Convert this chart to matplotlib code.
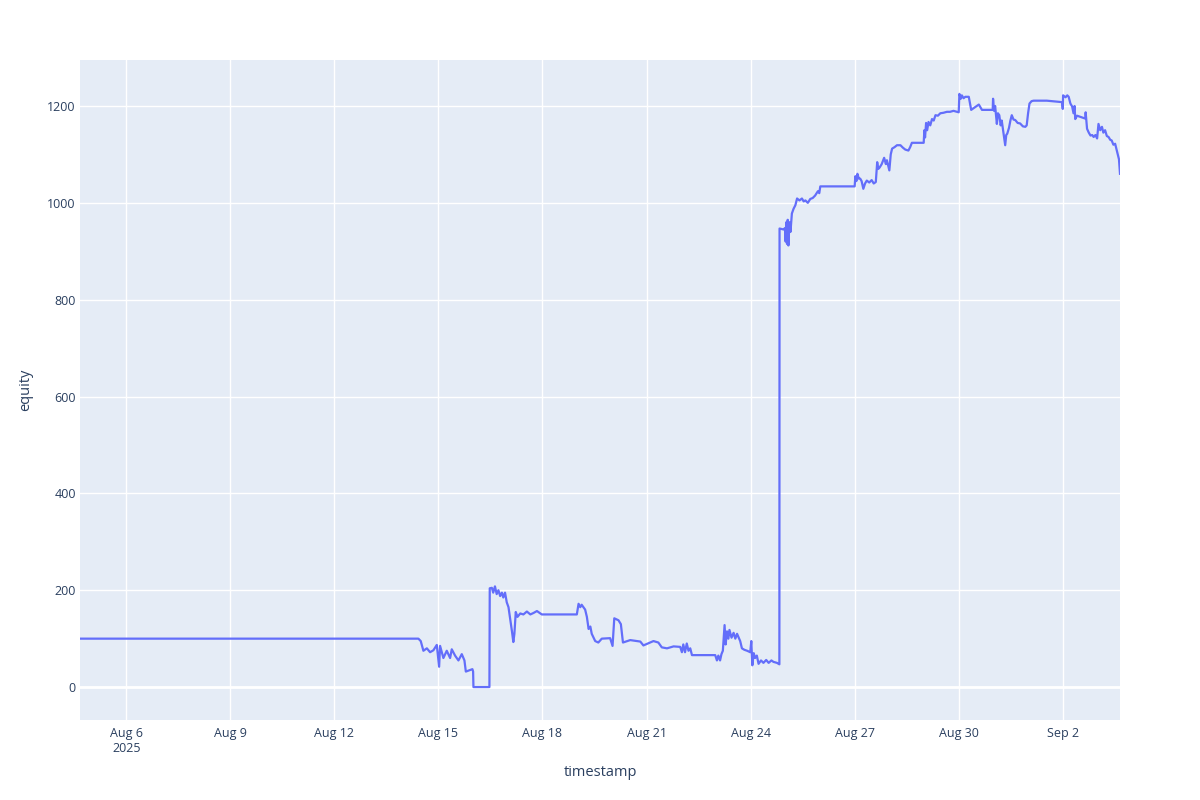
import numpy as np
import pandas as pd
import matplotlib
matplotlib.use("Agg")
import matplotlib.pyplot as plt

plt.rcParams["font.family"] = ["Open Sans", "DejaVu Sans"]

# equity curve
timestamps = [
    "2025-08-04 16:00", "2025-08-14 10:08", "2025-08-14 11:46", "2025-08-14 13:36", "2025-08-14 16:00",
    "2025-08-14 18:14", "2025-08-14 20:31", "2025-08-14 22:52", "2025-08-15 00:29", "2025-08-15 01:09",
    "2025-08-15 03:26", "2025-08-15 05:46", "2025-08-15 08:05", "2025-08-15 09:14", "2025-08-15 11:31",
    "2025-08-15 13:51", "2025-08-15 16:10", "2025-08-15 18:00", "2025-08-15 18:58", "2025-08-15 23:31",
    "2025-08-16 00:00", "2025-08-16 00:14", "2025-08-16 11:17", "2025-08-16 11:31", "2025-08-16 12:58",
    "2025-08-16 13:55", "2025-08-16 15:07", "2025-08-16 16:19", "2025-08-16 17:31", "2025-08-16 18:43",
    "2025-08-16 19:55", "2025-08-16 20:53", "2025-08-16 22:05", "2025-08-16 23:17", "2025-08-17 00:29",
    "2025-08-17 01:41", "2025-08-17 02:53", "2025-08-17 03:50", "2025-08-17 04:34", "2025-08-17 05:31",
    "2025-08-17 06:43", "2025-08-17 08:38", "2025-08-17 10:48", "2025-08-17 13:12", "2025-08-17 15:36",
    "2025-08-17 17:46", "2025-08-17 20:10", "2025-08-17 23:31", "2025-08-18 23:46", "2025-08-19 00:58",
    "2025-08-19 02:10", "2025-08-19 03:07", "2025-08-19 05:31", "2025-08-19 06:43", "2025-08-19 07:55",
    "2025-08-19 09:07", "2025-08-19 10:05", "2025-08-19 12:29", "2025-08-19 14:38", "2025-08-19 17:02",
    "2025-08-19 22:48", "2025-08-20 00:29", "2025-08-20 01:41", "2025-08-20 04:34", "2025-08-20 06:14",
    "2025-08-20 07:41", "2025-08-20 12:43", "2025-08-20 19:41", "2025-08-20 21:50", "2025-08-21 04:48",
    "2025-08-21 08:10", "2025-08-21 10:34", "2025-08-21 14:10", "2025-08-21 18:43", "2025-08-21 23:17",
    "2025-08-22 00:29", "2025-08-22 01:26", "2025-08-22 02:38", "2025-08-22 03:50", "2025-08-22 05:02",
    "2025-08-22 06:14", "2025-08-22 07:26", "2025-08-22 23:31", "2025-08-23 00:43", "2025-08-23 01:41",
    "2025-08-23 02:53", "2025-08-23 03:50", "2025-08-23 04:48", "2025-08-23 06:00", "2025-08-23 06:43",
    "2025-08-23 07:41", "2025-08-23 08:38", "2025-08-23 09:22", "2025-08-23 10:48", "2025-08-23 12:14",
    "2025-08-23 13:26", "2025-08-23 14:38", "2025-08-23 16:48", "2025-08-23 18:00", "2025-08-23 19:41",
    "2025-08-23 21:36", "2025-08-23 23:46", "2025-08-24 00:29", "2025-08-24 01:12", "2025-08-24 02:10",
    "2025-08-24 03:07", "2025-08-24 04:19", "2025-08-24 05:31", "2025-08-24 07:12", "2025-08-24 08:53",
    "2025-08-24 10:48", "2025-08-24 12:29", "2025-08-24 14:24", "2025-08-24 15:50", "2025-08-24 18:14",
    "2025-08-24 19:55", "2025-08-24 20:02", "2025-08-24 22:48", "2025-08-24 23:46", "2025-08-25 00:14",
    "2025-08-25 00:43", "2025-08-25 01:12", "2025-08-25 01:41", "2025-08-25 02:10", "2025-08-25 02:53",
    "2025-08-25 03:36", "2025-08-25 04:34", "2025-08-25 05:46", "2025-08-25 06:58", "2025-08-25 08:10",
    "2025-08-25 09:50", "2025-08-25 11:31", "2025-08-25 12:43", "2025-08-25 13:55", "2025-08-25 15:36",
    "2025-08-25 17:17", "2025-08-25 18:58", "2025-08-25 20:38", "2025-08-25 22:34", "2025-08-25 23:31",
    "2025-08-26 00:14", "2025-08-27 00:00", "2025-08-27 00:29", "2025-08-27 01:12", "2025-08-27 01:55",
    "2025-08-27 02:53", "2025-08-27 03:50", "2025-08-27 04:48", "2025-08-27 06:00", "2025-08-27 07:12",
    "2025-08-27 08:24", "2025-08-27 10:05", "2025-08-27 11:46", "2025-08-27 13:12", "2025-08-27 14:38",
    "2025-08-27 15:36", "2025-08-27 16:19", "2025-08-27 17:17", "2025-08-27 18:43", "2025-08-27 20:24",
    "2025-08-27 21:36", "2025-08-27 22:19", "2025-08-28 00:00", "2025-08-28 00:58", "2025-08-28 01:55",
    "2025-08-28 03:36", "2025-08-28 05:17", "2025-08-28 07:41", "2025-08-28 09:22", "2025-08-28 11:02",
    "2025-08-28 13:12", "2025-08-28 14:24", "2025-08-28 15:36", "2025-08-28 23:46", "2025-08-29 00:14",
    "2025-08-29 00:43", "2025-08-29 01:26", "2025-08-29 02:10", "2025-08-29 03:07", "2025-08-29 04:19",
    "2025-08-29 05:31", "2025-08-29 06:43", "2025-08-29 07:55", "2025-08-29 09:36", "2025-08-29 11:17",
    "2025-08-29 13:26", "2025-08-29 15:50", "2025-08-29 18:00", "2025-08-29 20:24", "2025-08-30 00:00",
    "2025-08-30 00:29", "2025-08-30 01:26", "2025-08-30 02:10", "2025-08-30 03:22", "2025-08-30 04:34",
    "2025-08-30 06:58", "2025-08-30 08:38", "2025-08-30 10:05", "2025-08-30 11:31", "2025-08-30 13:55",
    "2025-08-30 16:05", "2025-08-30 19:41", "2025-08-30 23:31", "2025-08-30 23:46", "2025-08-31 00:29",
    "2025-08-31 01:12", "2025-08-31 02:24", "2025-08-31 03:07", "2025-08-31 04:05", "2025-08-31 05:02",
    "2025-08-31 05:46", "2025-08-31 06:58", "2025-08-31 08:10", "2025-08-31 08:53", "2025-08-31 09:36",
    "2025-08-31 10:48", "2025-08-31 11:46", "2025-08-31 12:43", "2025-08-31 13:55", "2025-08-31 15:07",
    "2025-08-31 16:48", "2025-08-31 18:29", "2025-08-31 20:24", "2025-08-31 22:05", "2025-08-31 23:02",
    "2025-09-01 00:00", "2025-09-01 00:58", "2025-09-01 02:24", "2025-09-01 03:50", "2025-09-01 12:58",
    "2025-09-01 23:31", "2025-09-02 00:00", "2025-09-02 00:14", "2025-09-02 01:55", "2025-09-02 03:07",
    "2025-09-02 04:05", "2025-09-02 05:17", "2025-09-02 06:29", "2025-09-02 07:26", "2025-09-02 08:10",
    "2025-09-02 08:38", "2025-09-02 09:50", "2025-09-02 15:36", "2025-09-02 15:50", "2025-09-02 16:48",
    "2025-09-02 18:00", "2025-09-02 19:12", "2025-09-02 20:24", "2025-09-02 21:22", "2025-09-02 22:34",
    "2025-09-02 23:46", "2025-09-03 00:43", "2025-09-03 01:55", "2025-09-03 03:07", "2025-09-03 04:05",
    "2025-09-03 05:17", "2025-09-03 06:29", "2025-09-03 07:41", "2025-09-03 08:53", "2025-09-03 09:50",
    "2025-09-03 11:02", "2025-09-03 12:14", "2025-09-03 13:12", "2025-09-03 13:55", "2025-09-03 14:53",
    "2025-09-03 15:36",
]
equity = [
    100, 100, 95, 75, 80,
    72, 76, 87, 42, 85,
    60, 75, 60, 78, 65,
    55, 68, 55, 32, 37,
    32, 0, 0, 204, 205,
    195, 208, 192, 200, 188,
    195, 185, 195, 175, 165,
    140, 115, 93, 110, 155,
    145, 152, 150, 156, 150,
    153, 157, 150, 150, 172,
    165, 170, 160, 145, 120,
    125, 110, 95, 92, 100,
    101, 85, 142, 138, 130,
    92, 97, 94, 86, 95,
    92, 82, 80, 84, 83,
    72, 88, 72, 90, 75,
    80, 66, 66, 55, 65,
    55, 68, 75, 128, 88,
    115, 100, 118, 102, 112,
    100, 110, 95, 80, 77,
    75, 72, 95, 45, 70,
    60, 65, 48, 55, 50,
    56, 50, 55, 52, 50,
    47, 947, 945, 948, 920,
    960, 915, 965, 912, 960,
    940, 978, 988, 995, 1009,
    1005, 1009, 1003, 1005, 1000,
    1008, 1010, 1015, 1024, 1020,
    1034, 1034, 1055, 1045, 1060,
    1050, 1050, 1045, 1029, 1040,
    1046, 1042, 1047, 1040, 1043,
    1084, 1070, 1073, 1080, 1093,
    1080, 1088, 1067, 1100, 1112,
    1115, 1119, 1119, 1114, 1110,
    1108, 1115, 1124, 1124, 1150,
    1135, 1165, 1150, 1167, 1160,
    1173, 1170, 1181, 1180, 1185,
    1186, 1188, 1188, 1190, 1187,
    1225, 1215, 1222, 1216, 1219,
    1219, 1192, 1195, 1198, 1203,
    1192, 1192, 1192, 1215, 1190,
    1200, 1163, 1185, 1181, 1160,
    1170, 1145, 1119, 1140, 1143,
    1155, 1170, 1181, 1172, 1171,
    1165, 1164, 1158, 1157, 1160,
    1185, 1205, 1210, 1211, 1211,
    1208, 1194, 1222, 1218, 1222,
    1219, 1205, 1199, 1185, 1200,
    1173, 1180, 1174, 1187, 1153,
    1145, 1139, 1140, 1136, 1140,
    1133, 1163, 1150, 1157, 1145,
    1150, 1138, 1136, 1130, 1129,
    1120, 1122, 1110, 1101, 1090,
    1060,
]

tick_dates = ["2025-08-06", "2025-08-09", "2025-08-12", "2025-08-15", "2025-08-18",
              "2025-08-21", "2025-08-24", "2025-08-27", "2025-08-30", "2025-09-02"]
tick_labels = ["Aug 6\n2025", "Aug 9", "Aug 12", "Aug 15", "Aug 18",
               "Aug 21", "Aug 24", "Aug 27", "Aug 30", "Sep 2"]

df = pd.DataFrame({"timestamp": pd.to_datetime(timestamps), "equity": equity})

fig = plt.figure(figsize=(12, 8), dpi=100)
ax = fig.add_axes([80 / 1200, 80 / 800, 1040 / 1200, 660 / 800])
ax.set_facecolor("#E5ECF6")
for s in ax.spines.values():
    s.set_visible(False)

ax.plot(df["timestamp"], df["equity"], color="#636efa", lw=1.6, zorder=3)

ax.set_xlim(pd.Timestamp("2025-08-04 16:00"), pd.Timestamp("2025-09-03 15:36"))
ax.set_ylim(-68, 1295)
ax.set_yticks(range(0, 1201, 200))
ax.set_xticks(pd.to_datetime(tick_dates))
ax.set_xticklabels(tick_labels)

ax.grid(True, color="white", lw=1)
ax.set_axisbelow(True)
# thicker zero line like plotly
ax.axhline(0, color="white", lw=2, zorder=2)

ax.tick_params(length=0, colors="#2a3f5f", labelsize=9)
ax.tick_params(axis="y", pad=3)
ax.tick_params(axis="x", pad=5)
ax.set_xlabel("timestamp", fontsize=10.5, color="#2a3f5f", labelpad=7)
ax.set_ylabel("equity", fontsize=10.5, color="#2a3f5f", labelpad=10)

fig.savefig("out.png", dpi=100)
